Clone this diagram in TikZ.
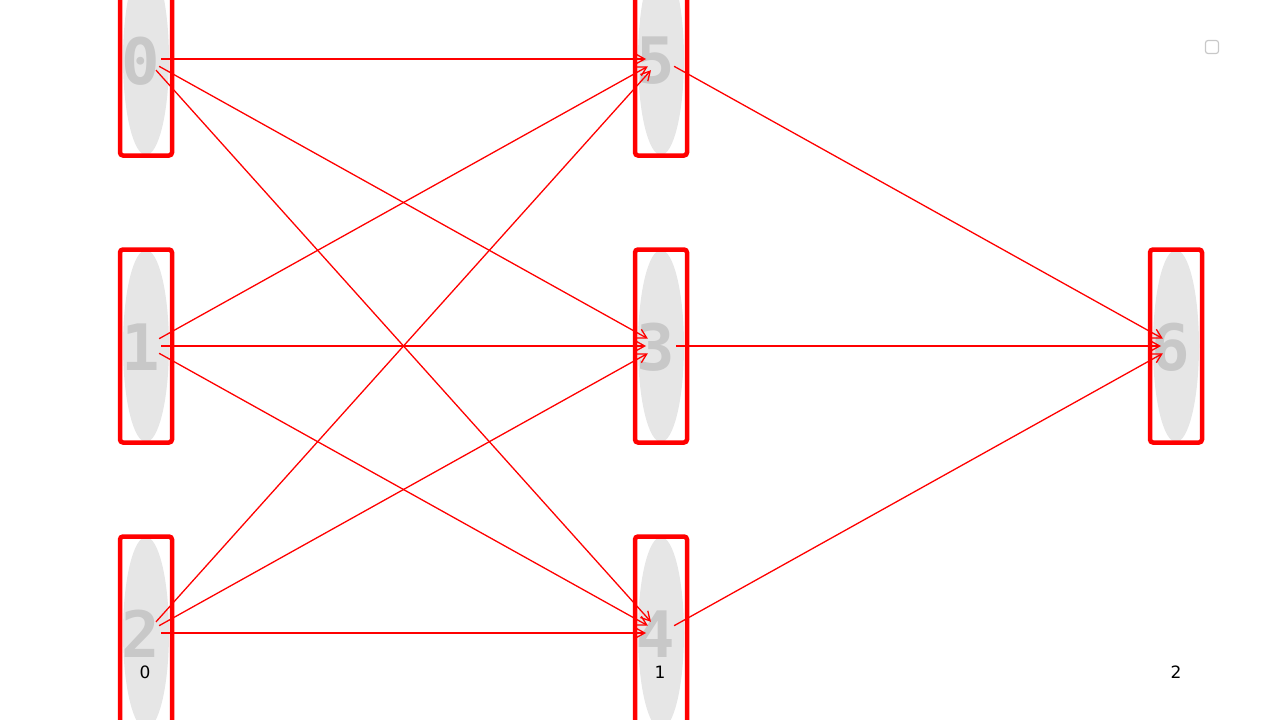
\documentclass[tikz,border=0pt]{standalone}
\usepackage{fontspec}
\setmainfont{DejaVu Sans}
\newfontfamily\glyphfont{DejaVu Sans Mono}
\usetikzlibrary{arrows.meta}
\definecolor{ellgray}{HTML}{E6E6E6}
\definecolor{glyphgray}{HTML}{C8C8C8}
\tikzset{
  capa/.style={draw=red, line width=4.5pt, rounded corners=3pt, minimum width=52pt, minimum height=193pt, inner sep=0pt},
  cifra/.style={font=\glyphfont\bfseries\fontsize{64}{64}\selectfont, text=glyphgray, inner sep=0pt},
  arista/.style={red, line width=1.3pt, shorten <=15pt, shorten >=15pt, -{Straight Barb[length=9pt,width=10pt,line width=1.3pt]}},
  etiqueta/.style={font=\fontsize{17}{17}\selectfont, inner sep=0pt}
}
\begin{document}
\begin{tikzpicture}[x=1pt, y=-1pt]
    \useasboundingbox (0,0) rectangle (1280,720);
    \clip (0,0) rectangle (1280,720);

    % Elipses grises de cada nodo
    \fill[ellgray] (146,59) ellipse (23 and 96);
    \fill[ellgray] (146,346) ellipse (23 and 96);
    \fill[ellgray] (146,633) ellipse (23 and 96);
    \fill[ellgray] (661,59) ellipse (23 and 96);
    \fill[ellgray] (661,346) ellipse (23 and 96);
    \fill[ellgray] (661,633) ellipse (23 and 96);
    \fill[ellgray] (1176,346) ellipse (23 and 96);

    % Cifras de los nodos
    \node[cifra] (c0) at (141,61) {0};
    \node[cifra] (c1) at (141,347) {1};
    \node[cifra] (c2) at (141,634) {2};
    \node[cifra] (c5) at (656,61) {5};
    \node[cifra] (c3) at (656,347) {3};
    \node[cifra] (c4) at (656,634) {4};
    \node[cifra] (c6) at (1171,347) {6};

    % Marcos rojos de los nodos
    \node[capa] (n0) at (146,59) {};
    \node[capa] (n1) at (146,346) {};
    \node[capa] (n2) at (146,633) {};
    \node[capa] (n5) at (661,59) {};
    \node[capa] (n3) at (661,346) {};
    \node[capa] (n4) at (661,633) {};
    \node[capa] (n6) at (1176,346) {};

    % Aristas de la capa 0 a la capa 1
    \draw[arista] (n0.center) -- (n5.center);
    \draw[arista] (n0.center) -- (n3.center);
    \draw[arista] (n0.center) -- (n4.center);
    \draw[arista] (n1.center) -- (n5.center);
    \draw[arista] (n1.center) -- (n3.center);
    \draw[arista] (n1.center) -- (n4.center);
    \draw[arista] (n2.center) -- (n5.center);
    \draw[arista] (n2.center) -- (n3.center);
    \draw[arista] (n2.center) -- (n4.center);

    % Aristas de la capa 1 a la capa 2
    \draw[arista] (n5.center) -- (n6.center);
    \draw[arista] (n3.center) -- (n6.center);
    \draw[arista] (n4.center) -- (n6.center);

    % Etiquetas de las capas
    \node[etiqueta] (l0) at (145,672) {0};
    \node[etiqueta] (l1) at (660,672) {1};
    \node[etiqueta] (l2) at (1176,672) {2};

    % Recuadro de la leyenda (vacio)
    \draw[glyphgray, line width=1.2pt, rounded corners=2.5pt] (1205.5,40.5) rectangle (1218.5,53.5);

\end{tikzpicture}
\end{document}
